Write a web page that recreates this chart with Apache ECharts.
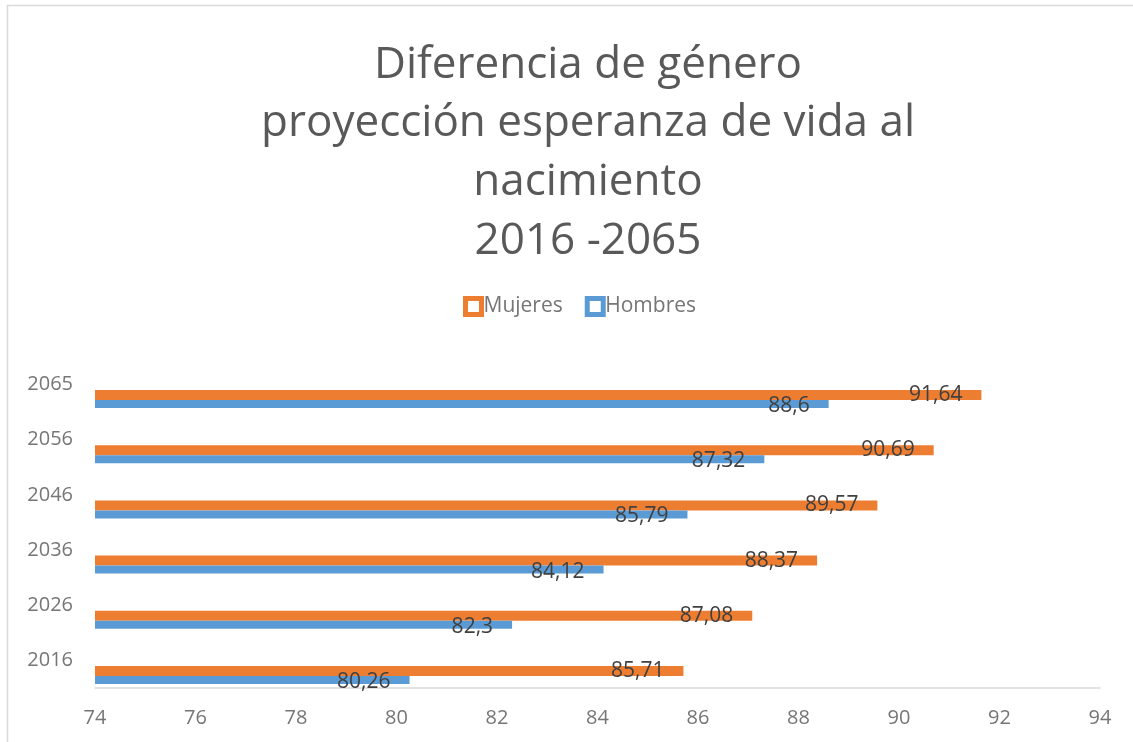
<!DOCTYPE html>
<html>
<head>
<meta charset="utf-8">
<script src="https://cdn.jsdelivr.net/npm/echarts@6/dist/echarts.min.js"></script>
<style>
html,body{margin:0;padding:0;background:#fff;}
#chart{width:1133px;height:742px;}
</style>
</head>
<body>
<div id="chart"></div>
<script>
const titleText = 'Diferencia de género\nproyección esperanza de vida al\nnacimiento\n2016 -2065';
const years = ['2016', '2026', '2036', '2046', '2056', '2065'];
const mujeres = [85.71, 87.08, 88.37, 89.57, 90.69, 91.64];
const hombres = [80.26, 82.3, 84.12, 85.79, 87.32, 88.6];
const xMin = 74, xMax = 94, xStep = 2;

const FONT = '"Open Sans", "Noto Sans", sans-serif';
const fmt = v => String(v).replace('.', ',');

const chart = echarts.init(document.getElementById('chart'), null, {renderer: 'canvas'});
chart.setOption({
  animation: false,
  backgroundColor: '#ffffff',
  graphic: [{
    type: 'rect',
    shape: {x: 7.5, y: 5.5, width: 1300, height: 900},
    style: {fill: 'none', stroke: '#d9d9d9', lineWidth: 1.5},
    z: -1
  }],
  title: {
    text: titleText,
    left: 583,
    textAlign: 'center',
    top: 31,
    textStyle: {
      fontFamily: FONT, fontSize: 44, fontWeight: 'normal',
      color: '#595959', lineHeight: 58.6
    }
  },
  legend: {
    data: [
      {name: 'Mujeres', itemStyle: {color: '#ffffff', borderColor: '#ED7D31', borderWidth: 5}},
      {name: 'Hombres', itemStyle: {color: '#ffffff', borderColor: '#5B9BD5', borderWidth: 5}}
    ],
    top: 291,
    left: 458,
    icon: 'rect',
    itemWidth: 16,
    itemHeight: 16,
    itemGap: 22,
    textStyle: {fontFamily: FONT, fontSize: 21, color: '#767676', padding: [0, 0, 0, -3]}
  },
  grid: {left: 95, right: 33, top: 357, bottom: 54, containLabel: false},
  xAxis: {
    type: 'value',
    min: xMin, max: xMax, interval: xStep,
    axisLine: {show: true, lineStyle: {color: '#d9d9d9', width: 1.5}},
    axisTick: {show: false},
    splitLine: {show: false},
    axisLabel: {fontFamily: FONT, fontSize: 20, color: '#767676', margin: 20}
  },
  yAxis: {
    type: 'category',
    data: years,
    axisLine: {show: false},
    axisTick: {show: false},
    splitLine: {show: false},
    axisLabel: {fontFamily: FONT, fontSize: 20, color: '#767676', margin: 22, padding: [4, 0, 0, 0]}
  },
  series: [
    {
      name: 'spacer', type: 'bar', data: [], barWidth: 29, barGap: 0,
      silent: true, itemStyle: {color: 'transparent'}
    },
    {
      name: 'Mujeres', type: 'bar', data: mujeres, barWidth: 10, barGap: 0,
      itemStyle: {color: '#ED7D31'},
      label: {
        show: true, position: 'insideRight', distance: 19,
        fontFamily: FONT, fontSize: 21, color: '#404040',
        formatter: p => fmt(p.value)
      }
    },
    {
      name: 'Hombres', type: 'bar', data: hombres, barWidth: 8, barGap: 0,
      itemStyle: {color: '#5B9BD5'},
      label: {
        show: true, position: 'insideRight', distance: 19, offset: [0, 2],
        fontFamily: FONT, fontSize: 21, color: '#404040',
        formatter: p => fmt(p.value)
      }
    }
  ]
});
</script>
</body>
</html>
